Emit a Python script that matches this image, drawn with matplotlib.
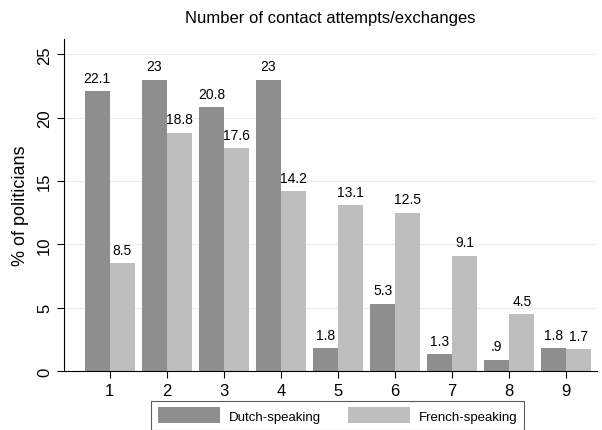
import matplotlib.pyplot as plt
import numpy as np

plt.rcParams['font.family'] = ['Liberation Sans', 'DejaVu Sans']

contacts = ['1', '2', '3', '4', '5', '6', '7', '8', '9']
dutch = [22.1, 23, 20.8, 23, 1.8, 5.3, 1.3, 0.9, 1.8]
french = [8.5, 18.8, 17.6, 14.2, 13.1, 12.5, 9.1, 4.5, 1.7]
dutch_labels = ['22.1', '23', '20.8', '23', '1.8', '5.3', '1.3', '.9', '1.8']
french_labels = ['8.5', '18.8', '17.6', '14.2', '13.1', '12.5', '9.1', '4.5', '1.7']

fig = plt.figure(figsize=(6.02, 4.31), dpi=100)
ax = fig.add_axes([0.106, 0.137, 0.886, 0.770])

x = np.arange(1, len(contacts) + 1)
w = 0.44
b1 = ax.bar(x - w / 2, dutch, w, color='#8e8e8e', label='Dutch-speaking', zorder=2)
b2 = ax.bar(x + w / 2, french, w, color='#bebebe', label='French-speaking', zorder=2)

for bars, labs in [(b1, dutch_labels), (b2, french_labels)]:
    for r, lab in zip(bars, labs):
        ax.text(r.get_x() + r.get_width() / 2, r.get_height() + 0.5, lab,
                ha='center', va='bottom', fontsize=10)

ax.set_xlim(0.193, 9.54)
ax.set_ylim(0, 26.2)
ax.set_xticks(x)
ax.set_xticklabels(contacts, fontsize=12)
ax.set_yticks([0, 5, 10, 15, 20, 25])
ax.set_yticklabels(['0', '5', '10', '15', '20', '25'], fontsize=12, rotation=90, va='center')
ax.tick_params(axis='x', length=5, width=0.8)
ax.tick_params(axis='y', length=5, width=0.8)
ax.yaxis.grid(True, color='#e6eeef', linewidth=0.8, zorder=0)
for s in ['top', 'right']:
    ax.spines[s].set_visible(False)
ax.spines['left'].set_linewidth(0.8)
ax.spines['bottom'].set_linewidth(0.8)

ax.set_ylabel('% of politicians', fontsize=13, labelpad=6)
ax.set_title('Number of contact attempts/exchanges', fontsize=12, pad=12)

leg = fig.legend(loc='upper center', bbox_to_anchor=(0.561, 0.068), ncol=2,
                 fontsize=9.5, frameon=True, fancybox=False, edgecolor='#333333',
                 handlelength=4.7, handleheight=1.5, handletextpad=0.7,
                 columnspacing=2.0, borderpad=0.5, borderaxespad=0)
leg.get_frame().set_linewidth(0.8)

fig.savefig('out.png', dpi=100)
